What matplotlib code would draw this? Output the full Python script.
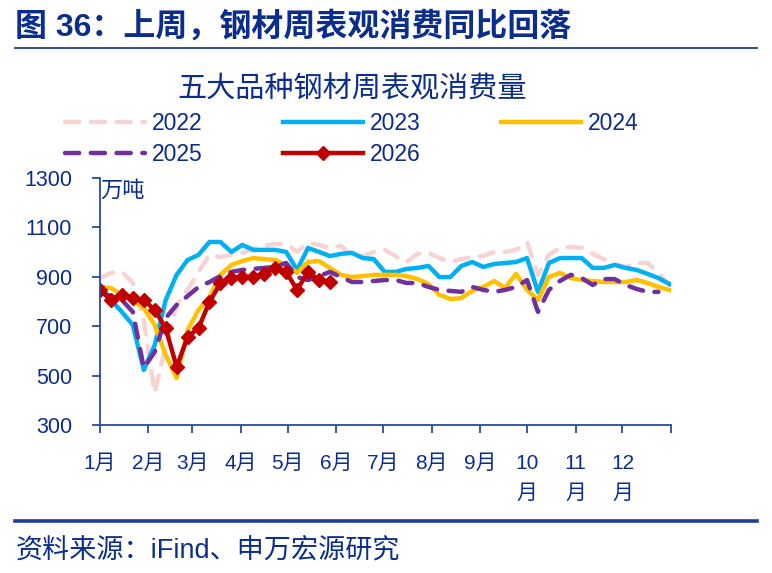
import matplotlib
matplotlib.use("Agg")
import matplotlib.pyplot as plt
from matplotlib.lines import Line2D
import numpy as np

plt.rcParams['font.family'] = ['Liberation Sans', 'Noto Sans CJK SC', 'DejaVu Sans']

BLUE = '#0B2D8C'
AXC = '#2A4A9E'

# weekly apparent consumption, 10k tonnes
y2022 = [895, 916, 920, 875, 725, 430, 624, 786, 847, 920, 989, 980, 989, 997, 1013, 1025,
         1033, 1033, 1001, 1037, 1029, 1017, 1025, 989, 984, 1001, 1009, 984, 960, 993, 997,
         976, 960, 972, 980, 984, 1001, 1001, 1009, 1041, 908, 989, 1017, 1021, 1017, 993,
         972, 952, 940, 956, 956, 916, 867]
y2023 = [847, 806, 758, 705, 523, 624, 806, 908, 968, 989, 1041, 1041, 1001, 1029, 1009, 1009,
         1009, 1001, 928, 1017, 1001, 984, 993, 997, 976, 972, 920, 920, 932, 936, 944,
         899, 899, 944, 960, 940, 952, 956, 960, 976, 839, 956, 976, 976, 976, 936,
         936, 948, 936, 928, 912, 895, 871]
y2024 = [859, 855, 827, 806, 774, 705, 584, 490, 685, 766, 818, 908, 948, 964, 976, 972,
         968, 948, 916, 960, 964, 936, 908, 899, 903, 908, 908, 908, 903, 891, 871,
         827, 810, 814, 843, 859, 883, 855, 912, 847, 806, 899, 916, 895, 887, 883,
         879, 879, 879, 887, 875, 859, 847]
y2025 = [839, 822, 806, 758, 531, 596, 733, 786, 822, 859, 879, 903, 920, 928, 932, 936,
         940, 956, 899, 887, 903, 920, 899, 879, 879, 883, 887, 887, 875, 875, 859,
         847, 843, 839, 859, 847, 839, 847, 859, 887, 758, 847, 883, 908, 895, 867,
         891, 891, 867, 851, 839, 839]
y2026 = [847, 806, 826, 814, 806, 766, 693, 535, 656, 693, 798, 875, 895, 899, 899, 911,
         936, 920, 847, 920, 887, 879]

month_days = [0, 31, 59, 90, 120, 151, 181, 212, 243, 273, 304, 334, 365]
month_labels = ['1月', '2月', '3月', '4月', '5月', '6月', '7月', '8月', '9月',
                '10\n月', '11\n月', '12\n月', '']

fig = plt.figure(figsize=(7.72, 5.73), dpi=100)
ax = fig.add_axes([0.1295, 0.2583, 0.7396, 0.431])

def days(vals):
    return np.arange(len(vals)) * 7

ax.plot(days(y2022), y2022, color='#F8D3D3', lw=3.2, dashes=(3.2, 2.6),
        dash_capstyle='round', label='2022')
ax.plot(days(y2023), y2023, color='#00B0F0', lw=3.2, label='2023')
ax.plot(days(y2024), y2024, color='#FFC000', lw=3.2, label='2024')
ax.plot(days(y2025), y2025, color='#7030A0', lw=3.2, dashes=(3.2, 2.6),
        dash_capstyle='round', label='2025')
ax.plot(days(y2026), y2026, color='#C00000', lw=3.2, marker='D', markersize=7,
        label='2026')

ax.set_xlim(0, 365)
ax.set_ylim(300, 1300)
ax.set_yticks(range(300, 1301, 200))
ax.set_xticks(month_days)
ax.set_xticklabels(month_labels, linespacing=1.7)
for s in ['top', 'right']:
    ax.spines[s].set_visible(False)
for s in ['left', 'bottom']:
    ax.spines[s].set_color(AXC)
    ax.spines[s].set_linewidth(1.3)
ax.tick_params(axis='both', colors=AXC, labelcolor=BLUE, length=6, width=1.3,
               direction='out')
ax.tick_params(axis='y', labelsize=15.5, pad=14)
ax.tick_params(axis='x', labelsize=15, pad=15)
ax.text(0.0, 0.99, '万吨', transform=ax.transAxes, fontsize=16, color=BLUE,
        va='top', ha='left')

# legend laid out row by row: 2022 2023 2024 / 2025 2026
h, l = ax.get_legend_handles_labels()
order = [0, 3, 1, 4, 2]
fig.legend([h[i] for i in order], [l[i] for i in order], ncol=3,
           loc='upper left', bbox_to_anchor=(0.084, 0.805), frameon=False,
           fontsize=16.5, labelcolor=BLUE, handlelength=3.5, handletextpad=0.3,
           columnspacing=3.5, labelspacing=0.35, borderpad=0, borderaxespad=0)

fig.text(0.456, 0.843, '五大品种钢材周表观消费量', fontsize=21, color=BLUE,
         ha='center', va='center')
fig.text(0.02, 0.953, '图 36：上周，钢材周表观消费同比回落', fontsize=23,
         fontweight='bold', color=BLUE, ha='left', va='center')
fig.add_artist(Line2D([0.019, 0.981], [0.916, 0.916], color='#1F3C99', lw=1.3))
fig.add_artist(Line2D([0.019, 0.981], [0.091, 0.091], color='#1F3C99', lw=2.6))
fig.text(0.02, 0.04, '资料来源：iFind、申万宏源研究', fontsize=19.5, color=BLUE,
         ha='left', va='center')

fig.savefig('out.png', dpi=100)
